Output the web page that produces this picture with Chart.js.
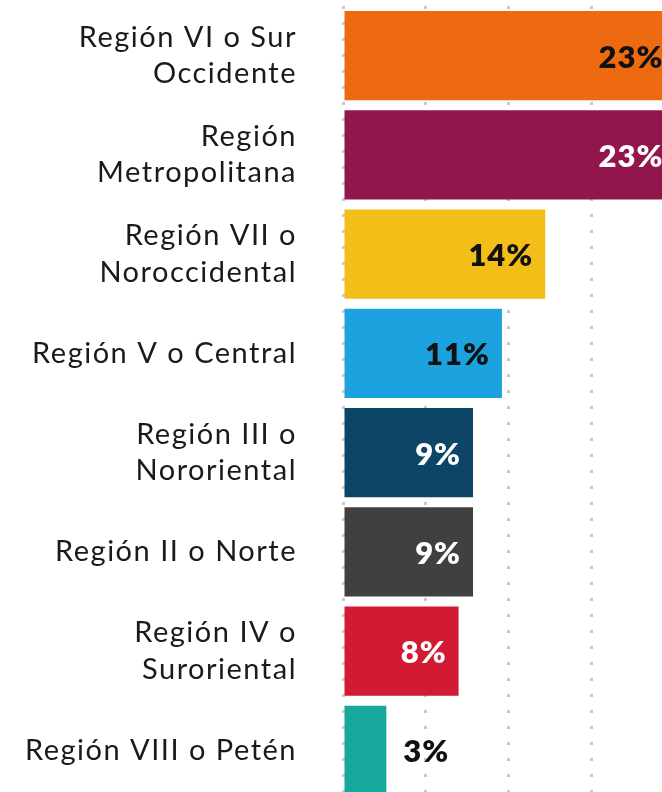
<!DOCTYPE html>
<html>
<head>
<meta charset="utf-8">
<script src="https://cdn.jsdelivr.net/npm/chart.js@4.4.1/dist/chart.umd.min.js"></script>
<style>
  html, body { margin: 0; padding: 0; background: #fff; overflow: hidden; }
  #wrap { position: relative; width: 662px; height: 800px; }
</style>
</head>
<body>
<div id="wrap"><canvas id="c"></canvas></div>
<script>
const categories = [
  ['Región VI o Sur', 'Occidente'],
  ['Región', 'Metropolitana'],
  ['Región VII o', 'Noroccidental'],
  'Región V o Central',
  ['Región III o', 'Nororiental'],
  'Región II o Norte',
  ['Región IV o', 'Suroriental'],
  'Región VIII o Petén'
];
const values = [23, 23, 14, 11, 9, 9, 8, 3];
const barColors = ['#EE6A10', '#93154E', '#F2BE17', '#1CA3DF', '#0D4567', '#404040', '#D21A33', '#16A89C'];
const labelColors = ['#111111', '#ffffff', '#111111', '#111111', '#ffffff', '#ffffff', '#ffffff', '#111111'];
const gridValues = [0, 5.74, 11.48, 17.22];
const axisMax = 22.08;

const spacing = {
  id: 'spacing',
  beforeLayout(chart) { chart.ctx.letterSpacing = '1.5px'; },
  beforeDraw(chart) { chart.ctx.letterSpacing = '1.5px'; }
};

const valueLabels = {
  id: 'valueLabels',
  afterDatasetsDraw(chart) {
    const ctx = chart.ctx;
    const meta = chart.getDatasetMeta(0);
    ctx.save();
    ctx.letterSpacing = '1px';
    ctx.font = '800 31px Lato';
    ctx.textBaseline = 'middle';
    meta.data.forEach((bar, i) => {
      const txt = values[i] + '%';
      const w = ctx.measureText(txt).width;
      const barW = bar.x - bar.base;
      ctx.fillStyle = labelColors[i];
      if (barW > w + 20) {
        ctx.textAlign = 'right';
        ctx.fillText(txt, bar.x - 12, bar.y + 2);
      } else {
        ctx.textAlign = 'left';
        ctx.fillText(txt, bar.x + 17, bar.y + 2);
      }
    });
    ctx.restore();
  }
};

new Chart(document.getElementById('c'), {
  type: 'bar',
  data: {
    labels: categories,
    datasets: [{
      data: values,
      backgroundColor: barColors,
      borderWidth: 0,
      barPercentage: 0.9,
      categoryPercentage: 1.0
    }]
  },
  options: {
    indexAxis: 'y',
    responsive: true,
    maintainAspectRatio: false,
    animation: false,
    layout: { padding: { top: 6, right: 0, bottom: 0, left: 0 } },
    plugins: { legend: { display: false }, tooltip: { enabled: false } },
    scales: {
      x: {
        min: 0,
        max: axisMax,
        afterBuildTicks(scale) { scale.ticks = gridValues.map(v => ({ value: v })); },
        afterFit(scale) { scale.height = 0; scale.paddingLeft = 0; scale.paddingRight = 0; },
        ticks: { display: false },
        grid: { color: '#c8c8c8', lineWidth: 3, drawTicks: false },
        border: { display: false, dash: [3, 13] }
      },
      y: {
        afterFit(scale) { scale.width = 343; scale.paddingTop = 0; scale.paddingBottom = 0; },
        grid: { display: false, drawTicks: false },
        border: { display: false },
        ticks: {
          padding: 46,
          color: '#1a1a1a',
          font: { family: 'Lato', size: 29, weight: '400', lineHeight: 1.25 }
        }
      }
    }
  },
  plugins: [spacing, valueLabels]
});
</script>
</body>
</html>
